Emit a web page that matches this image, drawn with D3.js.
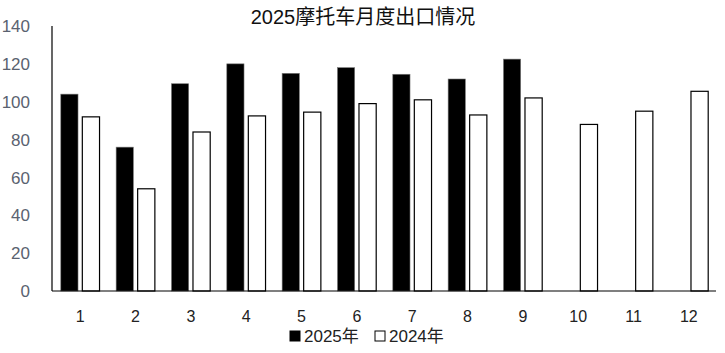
<!DOCTYPE html>
<html>
<head>
<meta charset="utf-8">
<script src="https://cdn.jsdelivr.net/npm/d3@7"></script>
<style>
  body { margin: 0; background: #fff; }
  svg text { font-family: "Liberation Sans", "Noto Sans CJK SC", sans-serif; }
</style>
</head>
<body>
<div id="chart"></div>
<script>
var width = 725
var height = 353

var months = ["1", "2", "3", "4", "5", "6", "7", "8", "9", "10", "11", "12"]
var series = ["2025年", "2024年"]
var values2025 = [104, 76, 109.5, 120, 115, 118, 114.5, 112, 122.5, null, null, null]
var values2024 = [92, 54, 84, 92.5, 94.5, 99, 101, 93, 102, 88, 95, 105.5]
var yTicks = [0, 20, 40, 60, 80, 100, 120, 140]

var margin = {left: 52, right: 9, top: 26, bottom: 62}

var svg = d3.select("#chart").append("svg")
  .attr("width", width)
  .attr("height", height)

var x0 = d3.scaleBand()
  .domain(months)
  .range([margin.left, width - margin.right])
  .paddingInner(0.3)
  .paddingOuter(0.15)

var x1 = d3.scaleBand()
  .domain(series)
  .range([0, x0.bandwidth()])
  .paddingInner(0.2)

var y = d3.scaleLinear()
  .domain([0, 140])
  .range([height - margin.bottom, margin.top])

var data = months.map(function (m, i) {
  return {month: m, values: [
    {key: "2025年", value: values2025[i]},
    {key: "2024年", value: values2024[i]}
  ]}
})

// bars
var groups = svg.append("g").selectAll("g")
  .data(data)
  .enter()
  .append("g")
  .attr("transform", function (d) { return "translate(" + x0(d.month) + ",0)" })

groups.selectAll("rect")
  .data(function (d) { return d.values.filter(function (v) { return v.value != null }) })
  .enter()
  .append("rect")
  .attr("x", function (d) { return x1(d.key) + 0.5 })
  .attr("y", function (d) { return y(d.value) })
  .attr("width", x1.bandwidth())
  .attr("height", function (d) { return y(0) - y(d.value) })
  .attr("fill", function (d) { return d.key === "2025年" ? "#000" : "#fff" })
  .attr("stroke", function (d) { return d.key === "2025年" ? "#777" : "#000" })
  .attr("stroke-width", function (d) { return d.key === "2025年" ? 0.6 : 1.2 })

// axes lines
svg.append("line")
  .attr("x1", margin.left).attr("x2", margin.left)
  .attr("y1", y(140)).attr("y2", y(0))
  .attr("stroke", "#000").attr("stroke-width", 1.2)

svg.append("line")
  .attr("x1", margin.left).attr("x2", width - margin.right)
  .attr("y1", y(0)).attr("y2", y(0))
  .attr("stroke", "#000").attr("stroke-width", 1.2)

// y tick labels
svg.append("g").selectAll("text")
  .data(yTicks)
  .enter()
  .append("text")
  .attr("x", 30)
  .attr("y", function (d) { return y(d) })
  .attr("dy", "0.36em")
  .attr("text-anchor", "end")
  .attr("fill", "#5a6270")
  .attr("style", "font-size:17px")
  .text(function (d) { return d })

// x tick labels
svg.append("g").selectAll("text")
  .data(months)
  .enter()
  .append("text")
  .attr("x", function (d) { return x0(d) + x0.bandwidth() / 2 + 0.5 })
  .attr("y", 322)
  .attr("text-anchor", "middle")
  .attr("fill", "#222")
  .attr("style", "font-size:16px")
  .text(function (d) { return d })

// title
svg.append("text")
  .attr("x", 363)
  .attr("y", 24)
  .attr("text-anchor", "middle")
  .attr("fill", "#111")
  .attr("style", "font-size:20px")
  .text("2025摩托车月度出口情况")

// legend
var legend = svg.append("g")
var legendX = [290, 375]
legend.selectAll("rect")
  .data(series)
  .enter()
  .append("rect")
  .attr("x", function (d, i) { return legendX[i] })
  .attr("y", 331)
  .attr("width", 10)
  .attr("height", 10)
  .attr("fill", function (d, i) { return i === 0 ? "#000" : "#fff" })
  .attr("stroke", "#000")
  .attr("stroke-width", 1)

legend.selectAll("text")
  .data(series)
  .enter()
  .append("text")
  .attr("x", function (d, i) { return legendX[i] + 14 })
  .attr("y", 342)
  .attr("fill", "#222")
  .attr("style", "font-size:17px")
  .text(function (d) { return d })
</script>
</body>
</html>
